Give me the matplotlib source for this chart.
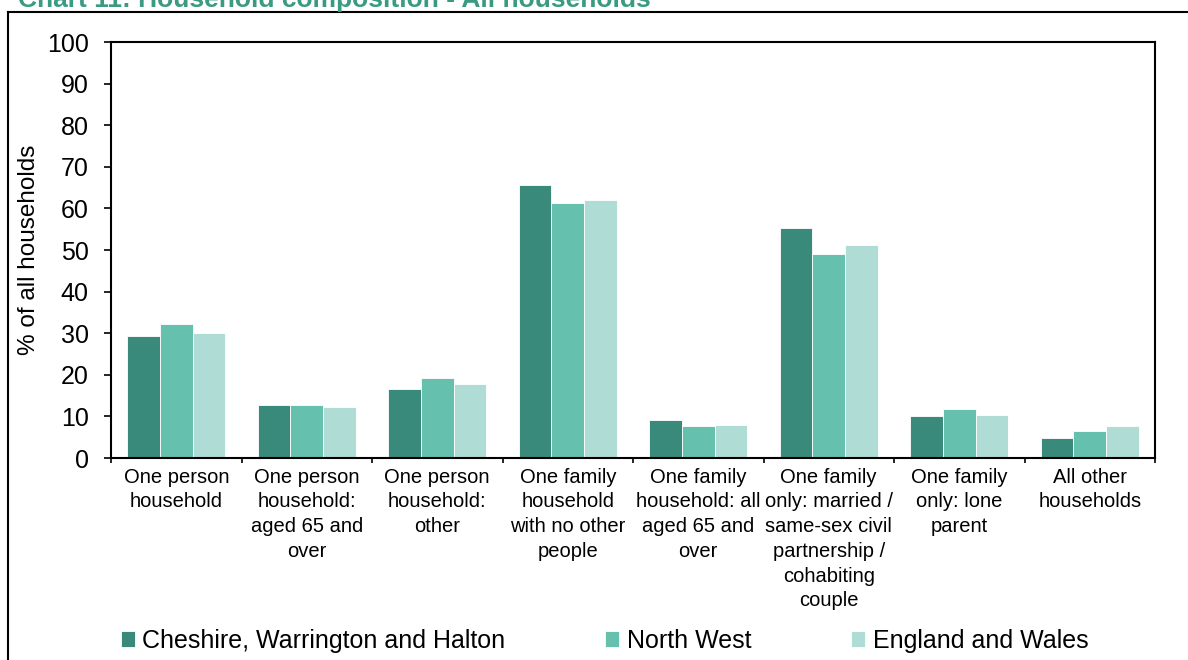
import numpy as np
import matplotlib.pyplot as plt
from matplotlib.lines import Line2D

plt.rcParams['font.family'] = ['Liberation Sans', 'DejaVu Sans']

categories = [
    'One person\nhousehold',
    'One person\nhousehold:\naged 65 and\nover',
    'One person\nhousehold:\nother',
    'One family\nhousehold\nwith no other\npeople',
    'One family\nhousehold: all\naged 65 and\nover',
    'One family\nonly: married /\nsame-sex civil\npartnership /\ncohabiting\ncouple',
    'One family\nonly: lone\nparent',
    'All other\nhouseholds',
]
series_names = ['Cheshire, Warrington and Halton', 'North West', 'England and Wales']
cwh = [29.4, 12.7, 16.5, 65.6, 9.1, 55.3, 10.0, 4.8]
north_west = [32.1, 12.7, 19.2, 61.2, 7.7, 49.1, 11.8, 6.4]
eng_wales = [30.1, 12.3, 17.7, 61.9, 8.0, 51.1, 10.4, 7.7]
colors = ['#3a8a7b', '#66c0ae', '#afddd6']

fig = plt.figure(figsize=(11.88, 6.6), dpi=100)
ax = fig.add_axes([111 / 1188, 1 - 458 / 660, (1155 - 111) / 1188, (458 - 42) / 660])

x = np.arange(len(categories))
w = 0.251
for i, (vals, c, name) in enumerate(zip([cwh, north_west, eng_wales], colors, series_names)):
    ax.bar(x + (i - 1) * w, vals, width=w, color=c, edgecolor='white', linewidth=0.6, label=name)

ax.set_xlim(-0.5, len(categories) - 0.5)
ax.set_ylim(0, 100)
ax.set_yticks(np.arange(0, 101, 10))
ax.tick_params(axis='y', labelsize=18, length=5, width=1.2, pad=11)
ax.set_xticks(np.arange(-0.5, len(categories), 1))
ax.set_xticklabels([])
ax.tick_params(axis='x', which='major', length=3.5, width=1.2)
ax.set_xticks(x, minor=True)
ax.set_xticklabels(categories, minor=True, fontsize=14.5, linespacing=1.38)
ax.tick_params(axis='x', which='minor', length=0, pad=7)
for s in ax.spines.values():
    s.set_linewidth(1.5)
ax.set_ylabel('% of all households', fontsize=17.5, labelpad=5)

fig.legend(loc='center', bbox_to_anchor=(0.509, 1 - 641 / 660), ncol=3, frameon=False,
           fontsize=18, handlelength=0.56, handleheight=0.6, handletextpad=0.3,
           columnspacing=4.0, borderaxespad=0)

fig.text(18 / 1188, 1 - 7 / 660, 'Chart 11: Household composition - All households',
         fontsize=19, fontweight='bold', color='#3a9a82', va='baseline', ha='left')

fig.add_artist(Line2D([8 / 1188, 8 / 1188], [0, 1 - 12 / 660], color='black', lw=1.5))
fig.add_artist(Line2D([8 / 1188, 1], [1 - 12 / 660, 1 - 12 / 660], color='black', lw=1.5))

fig.savefig('out.png', dpi=100)
